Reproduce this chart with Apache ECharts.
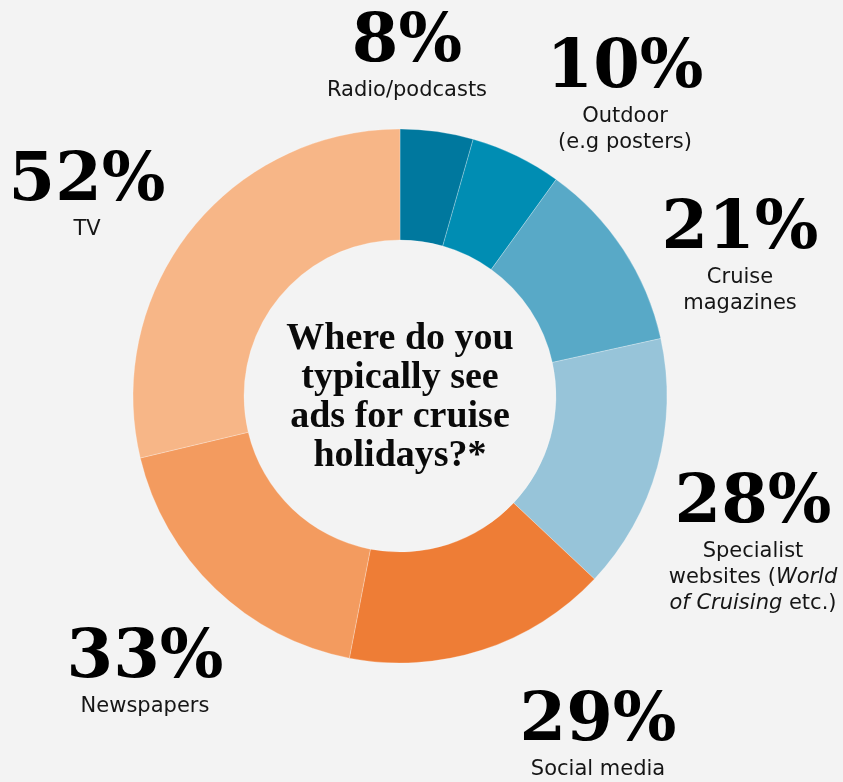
<!DOCTYPE html>
<html>
<head>
<meta charset="utf-8">
<script src="https://cdn.jsdelivr.net/npm/echarts@6/dist/echarts.min.js"></script>
<style>
  html, body { margin: 0; padding: 0; background: #f3f3f3; }
  #chart { width: 843px; height: 782px; }
</style>
</head>
<body>
<div id="chart"></div>
<script>
// Survey answers, in clockwise order from the top of the ring
const categories = [
  'Radio/podcasts',
  'Outdoor (e.g posters)',
  'Cruise magazines',
  'Specialist websites (World of Cruising etc.)',
  'Social media',
  'Newspapers',
  'TV'
];
const shares = [8, 10, 21, 28, 29, 33, 52];

// Caption lines under each percentage (rich-text markup, {i|...} = italic)
const captionLines = [
  ['Radio/podcasts'],
  ['Outdoor', '(e.g posters)'],
  ['Cruise', 'magazines'],
  ['Specialist', 'websites ({i|World}', '{i|of Cruising} etc.)'],
  ['Social media'],
  ['Newspapers'],
  ['TV']
];

const sliceColors = ['#00789e', '#008db3', '#58a9c7', '#97c4d9', '#ee7d36', '#f39b5f', '#f7b687'];

// Top-centre anchor of each label block
const labelAnchors = [
  [407, 10], [625, 36], [740, 197], [753, 471], [598, 689], [145, 626], [87, 149]
];

const question = ['Where do you', 'typically see', 'ads for cruise', 'holidays?*'];

const chart = echarts.init(document.getElementById('chart'), null, { renderer: 'canvas' });

const sansFont = '"DejaVu Sans", sans-serif';
const serifFont = '"DejaVu Serif", serif';

chart.setOption({
  backgroundColor: '#f3f3f3',
  animation: false,
  graphic: [{
    type: 'text',
    x: 400,
    y: 398,
    style: {
      text: question.join('\n'),
      font: 'bold 38px "Liberation Serif", serif',
      fill: '#0a0a0a',
      align: 'center',
      verticalAlign: 'middle',
      lineHeight: 39
    }
  }],
  series: [{
    type: 'pie',
    center: [400, 396],
    radius: [156, 267],
    startAngle: 90,
    clockwise: true,
    avoidLabelOverlap: false,
    itemStyle: { borderColor: 'rgba(255,255,255,0.5)', borderWidth: 0.5 },
    emphasis: { disabled: true },
    data: categories.map((name, i) => ({
      name,
      value: shares[i],
      itemStyle: { color: sliceColors[i] }
    })),
    label: {
      show: true,
      position: 'outside',
      formatter: (p) => {
        const i = p.dataIndex;
        return '{pct|' + shares[i] + '%}\n' + captionLines[i].join('\n');
      },
      align: 'center',
      color: '#151515',
      fontFamily: sansFont,
      fontSize: 21,
      lineHeight: 26,
      rich: {
        pct: {
          fontFamily: serifFont,
          fontWeight: 'bold',
          fontSize: 67,
          lineHeight: 68,
          color: '#000'
        },
        i: {
          fontFamily: sansFont,
          fontStyle: 'italic',
          fontSize: 21,
          lineHeight: 26,
          color: '#151515'
        }
      }
    },
    labelLine: { show: false },
    labelLayout: (params) => {
      const a = labelAnchors[params.dataIndex];
      return { x: a[0], y: a[1], align: 'center', verticalAlign: 'top' };
    }
  }]
});
</script>
</body>
</html>
